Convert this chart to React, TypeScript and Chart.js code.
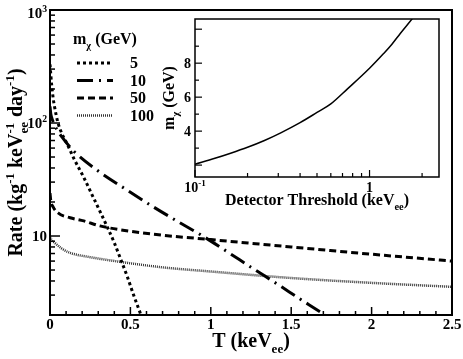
import React, { useEffect, useRef } from "react";
import { Chart, registerables } from "chart.js";
Chart.register(...registerables);

const FONT = "'Liberation Serif', 'Times New Roman', serif";

// ---- main chart data: recoil threshold T (keVee) vs rate ----
const T_5 = [0, 0.01, 0.02, 0.03, 0.05, 0.075, 0.105, 0.15, 0.21, 0.26, 0.31, 0.36, 0.4, 0.44, 0.48, 0.52, 0.56, 0.6];
const RATE_5 = [330, 220, 165, 135, 100, 80, 66, 48, 33, 23.4, 16.6, 11.7, 8.7, 6.2, 4.4, 3.0, 2.1, 1.45];
const T_10 = [0, 0.005, 0.01, 0.02, 0.04, 0.075, 0.15, 0.3, 0.47, 0.64, 0.8, 0.95, 1.1, 1.25, 1.44, 1.54, 1.61, 1.71, 1.8];
const RATE_10 = [140, 120, 112, 102, 89, 75, 56, 37.6, 26, 18.2, 13.3, 10, 7.3, 5.3, 3.55, 2.86, 2.47, 2.0, 1.65];
const T_50 = [0, 0.005, 0.02, 0.05, 0.125, 0.21, 0.31, 0.5, 0.69, 1.0, 1.5, 2.0, 2.5];
const RATE_50 = [24, 20.5, 18, 16, 14.5, 13.6, 12.3, 11, 10.2, 9.3, 8.0, 6.9, 6.0];
const T_100 = [0, 0.01, 0.03, 0.07, 0.125, 0.25, 0.44, 0.69, 1.0, 1.5, 2.0, 2.5];
const RATE_100 = [9.8, 9.2, 8.7, 7.8, 7.1, 6.5, 5.9, 5.3, 4.85, 4.25, 3.85, 3.55];

const MASS_LABELS = ["5", "10", "50", "100"];
const X_MIN = 0;
const X_MAX = 2.5;
const Y_MIN = 2;
const Y_MAX = 1000;
const X_LABEL_VALUES = [0, 0.5, 1, 1.5, 2, 2.5];
const Y_LABEL_VALUES = [10, 100, 1000];

// ---- inset data: detector threshold vs WIMP mass ----
const THRESHOLD = [0.1, 0.13, 0.16, 0.2, 0.25, 0.31, 0.4, 0.5, 0.6, 0.75, 1.0, 1.2, 1.34, 1.5, 1.75, 1.9];
const MASS = [2.05, 2.4, 2.7, 3.05, 3.45, 3.9, 4.5, 5.1, 5.6, 6.5, 7.7, 8.55, 9.1, 9.75, 10.6, 11.1];
const INSET_X_MIN = 0.1;
const INSET_X_MAX = 2.5;
const INSET_Y_MIN = 1.3;
const INSET_Y_MAX = 10.6;
const INSET_Y_LABELS = [4, 6, 8];
const INSET_X_LABELS = [0.1, 1];

// styles (kept separate from data)
const STYLES = [
  { dash: [3, 3], width: 3, color: "#000" },
  { dash: [16, 6, 2, 6], width: 3, color: "#000" },
  { dash: [7, 4], width: 3, color: "#000" },
  { dash: [1, 1], width: 2.5, color: "#333" },
];

type Seg = { t: string; sup?: string; sub?: string };

function segW(ctx: CanvasRenderingContext2D, g: Seg, size: number) {
  ctx.font = `bold ${size}px ${FONT}`;
  const w = ctx.measureText(g.t).width;
  ctx.font = `bold ${size * 0.65}px ${FONT}`;
  const a = g.sup ? ctx.measureText(g.sup).width : 0;
  const b = g.sub ? ctx.measureText(g.sub).width : 0;
  return w + Math.max(a, b);
}

function drawRich(
  ctx: CanvasRenderingContext2D,
  segs: Seg[],
  x: number,
  y: number,
  size: number,
  align: "left" | "center" | "right" = "left",
  rotate = 0,
  middle = false
) {
  ctx.save();
  ctx.translate(x, y);
  if (rotate) ctx.rotate(rotate);
  const total = segs.reduce((s, g) => s + segW(ctx, g, size), 0);
  let cx = align === "center" ? -total / 2 : align === "right" ? -total : 0;
  const base = middle ? size * 0.33 : 0;
  ctx.textAlign = "left";
  ctx.textBaseline = "alphabetic";
  ctx.fillStyle = "#000";
  for (const g of segs) {
    ctx.font = `bold ${size}px ${FONT}`;
    ctx.fillText(g.t, cx, base);
    cx += ctx.measureText(g.t).width;
    ctx.font = `bold ${size * 0.65}px ${FONT}`;
    let ws = 0;
    if (g.sup) {
      ctx.fillText(g.sup, cx, base - size * 0.42);
      ws = Math.max(ws, ctx.measureText(g.sup).width);
    }
    if (g.sub) {
      ctx.fillText(g.sub, cx, base + size * 0.32);
      ws = Math.max(ws, ctx.measureText(g.sub).width);
    }
    cx += ws;
  }
  ctx.restore();
}

function line(ctx: CanvasRenderingContext2D, x1: number, y1: number, x2: number, y2: number) {
  ctx.beginPath();
  ctx.moveTo(x1, y1);
  ctx.lineTo(x2, y2);
  ctx.stroke();
}

const mainDecor = {
  id: "mainDecor",
  afterDraw(chart: any) {
    const { ctx, chartArea: a, scales } = chart;
    const x = scales.x;
    const y = scales.y;
    ctx.save();
    ctx.strokeStyle = "#000";
    ctx.lineWidth = 1.5;
    ctx.setLineDash([]);
    const nMinor = Math.round((X_MAX - X_MIN) / 0.1);
    for (let i = 0; i <= nMinor; i++) {
      const v = X_MIN + i * 0.1;
      const px = x.getPixelForValue(v);
      const major = i % 5 === 0;
      line(ctx, px, a.bottom, px, a.bottom - (major ? 8 : 4));
    }
    for (let d = 0; d <= 3; d++) {
      for (let k = 1; k <= 9; k++) {
        const v = k * Math.pow(10, d);
        if (v < Y_MIN || v > Y_MAX) continue;
        const py = y.getPixelForValue(v);
        line(ctx, a.left, py, a.left + (k === 1 ? 10 : 5), py);
      }
    }
    ctx.lineWidth = 2;
    ctx.strokeRect(a.left, a.top, a.right - a.left, a.bottom - a.top);
    for (const v of Y_LABEL_VALUES) {
      const e = Math.round(Math.log10(v));
      const segs: Seg[] = e === 1 ? [{ t: "10" }] : [{ t: "10", sup: String(e) }];
      const py = y.getPixelForValue(v);
      drawRich(ctx, segs, a.left - 3, py + (v === Y_MAX ? 3 : 0), 15, "right", 0, true);
    }
    for (const v of X_LABEL_VALUES) {
      drawRich(ctx, [{ t: String(v) }], x.getPixelForValue(v), a.bottom + 14, 15, "center");
    }
    drawRich(
      ctx,
      [{ t: "Rate (kg", sup: "-1" }, { t: " keV", sup: "-1", sub: "ee" }, { t: " day", sup: "-1" }, { t: ")" }],
      22,
      (a.top + a.bottom) / 2,
      20,
      "center",
      -Math.PI / 2
    );
    drawRich(ctx, [{ t: "T (keV", sub: "ee" }, { t: ")" }], (a.left + a.right) / 2, 347, 20, "center");
    drawRich(ctx, [{ t: "m", sub: "χ" }, { t: " (GeV)" }], 73, 44, 16, "left");
    const rowY = [63, 80.5, 98, 115.5];
    MASS_LABELS.forEach((lab, i) => {
      const st = STYLES[i];
      ctx.strokeStyle = st.color;
      ctx.lineWidth = st.width;
      ctx.setLineDash(st.dash);
      line(ctx, 77, rowY[i], 113, rowY[i]);
      ctx.setLineDash([]);
      drawRich(ctx, [{ t: lab }], 130, rowY[i], 16, "left", 0, true);
    });
    ctx.restore();
  },
};

const insetDecor = {
  id: "insetDecor",
  afterDraw(chart: any) {
    const { ctx, chartArea: a, scales } = chart;
    const x = scales.x;
    const y = scales.y;
    ctx.save();
    ctx.strokeStyle = "#000";
    ctx.lineWidth = 1.2;
    ctx.setLineDash([]);
    for (let d = -1; d <= 0; d++) {
      for (let k = 1; k <= 9; k++) {
        const v = k * Math.pow(10, d);
        if (v < INSET_X_MIN || v > INSET_X_MAX) continue;
        const px = x.getPixelForValue(v);
        line(ctx, px, a.bottom, px, a.bottom - (k === 1 ? 7 : 4));
      }
    }
    for (let v = Math.ceil(INSET_Y_MIN); v <= INSET_Y_MAX; v++) {
      const py = y.getPixelForValue(v);
      line(ctx, a.left, py, a.left + (v % 2 === 0 ? 7 : 4), py);
    }
    ctx.lineWidth = 1.5;
    ctx.strokeRect(a.left, a.top, a.right - a.left, a.bottom - a.top);
    for (const v of INSET_Y_LABELS) {
      drawRich(ctx, [{ t: String(v) }], a.left - 4, y.getPixelForValue(v), 14, "right", 0, true);
    }
    for (const v of INSET_X_LABELS) {
      const e = Math.round(Math.log10(v));
      const segs: Seg[] = e === 0 ? [{ t: "1" }] : [{ t: "10", sup: String(e) }];
      drawRich(ctx, segs, x.getPixelForValue(v), a.bottom + 15, 14, "center");
    }
    drawRich(ctx, [{ t: "Detector Threshold (keV", sub: "ee" }, { t: ")" }], (a.left + a.right) / 2, a.bottom + 28, 16, "center");
    drawRich(ctx, [{ t: "m", sub: "χ" }, { t: " (GeV)" }], a.left - 21, (a.top + a.bottom) / 2, 16, "center", -Math.PI / 2);
    ctx.restore();
  },
};

const INSET_LEFT = 155;
const INSET_TOP = 5;
const INSET_W = 295;
const INSET_H = 215;

export default function App() {
  const mainRef = useRef<HTMLCanvasElement>(null);
  const insetRef = useRef<HTMLCanvasElement>(null);

  useEffect(() => {
    const seriesT = [T_5, T_10, T_50, T_100];
    const seriesR = [RATE_5, RATE_10, RATE_50, RATE_100];
    const main = new Chart(mainRef.current as HTMLCanvasElement, {
      type: "line",
      data: {
        datasets: MASS_LABELS.map((lab, i) => ({
          label: lab,
          data: seriesT[i].map((t, j) => ({ x: t, y: seriesR[i][j] })),
          borderColor: STYLES[i].color,
          borderWidth: STYLES[i].width,
          borderDash: STYLES[i].dash,
          borderCapStyle: "butt",
          pointRadius: 0,
          fill: false,
          cubicInterpolationMode: "monotone",
        })),
      },
      options: {
        responsive: false,
        animation: false,
        devicePixelRatio: 1,
        layout: { padding: { top: 10, right: 11, left: 0, bottom: 0 } },
        plugins: { legend: { display: false }, tooltip: { enabled: false } },
        scales: {
          x: {
            type: "linear",
            min: X_MIN,
            max: X_MAX,
            ticks: { display: false },
            grid: { display: false },
            border: { display: false },
            afterFit: (s: any) => {
              s.height = 44;
            },
          },
          y: {
            type: "logarithmic",
            min: Y_MIN,
            max: Y_MAX,
            ticks: { display: false },
            grid: { display: false },
            border: { display: false },
            afterFit: (s: any) => {
              s.width = 50;
            },
          },
        },
      } as any,
      plugins: [mainDecor],
    });

    const inset = new Chart(insetRef.current as HTMLCanvasElement, {
      type: "line",
      data: {
        datasets: [
          {
            label: "mchi",
            data: THRESHOLD.map((t, j) => ({ x: t, y: MASS[j] })),
            borderColor: "#000",
            borderWidth: 1.5,
            pointRadius: 0,
            fill: false,
            cubicInterpolationMode: "monotone",
          },
        ],
      },
      options: {
        responsive: false,
        animation: false,
        devicePixelRatio: 1,
        layout: { padding: { top: 14, right: 11, left: 0, bottom: 0 } },
        plugins: { legend: { display: false }, tooltip: { enabled: false } },
        scales: {
          x: {
            type: "logarithmic",
            min: INSET_X_MIN,
            max: INSET_X_MAX,
            ticks: { display: false },
            grid: { display: false },
            border: { display: false },
            afterFit: (s: any) => {
              s.height = INSET_H - 172;
            },
          },
          y: {
            type: "linear",
            min: INSET_Y_MIN,
            max: INSET_Y_MAX,
            ticks: { display: false },
            grid: { display: false },
            border: { display: false },
            afterFit: (s: any) => {
              s.width = 40;
            },
          },
        },
      } as any,
      plugins: [insetDecor],
    });

    return () => {
      main.destroy();
      inset.destroy();
    };
  }, []);

  return (
    <div style={{ position: "absolute", left: 0, top: 0, width: 463, height: 359, background: "#fff" }}>
      <canvas
        ref={mainRef}
        width={463}
        height={359}
        style={{ position: "absolute", left: 0, top: 0, width: 463, height: 359 }}
      />
      <canvas
        ref={insetRef}
        width={INSET_W}
        height={INSET_H}
        style={{ position: "absolute", left: INSET_LEFT, top: INSET_TOP, width: INSET_W, height: INSET_H }}
      />
    </div>
  );
}
